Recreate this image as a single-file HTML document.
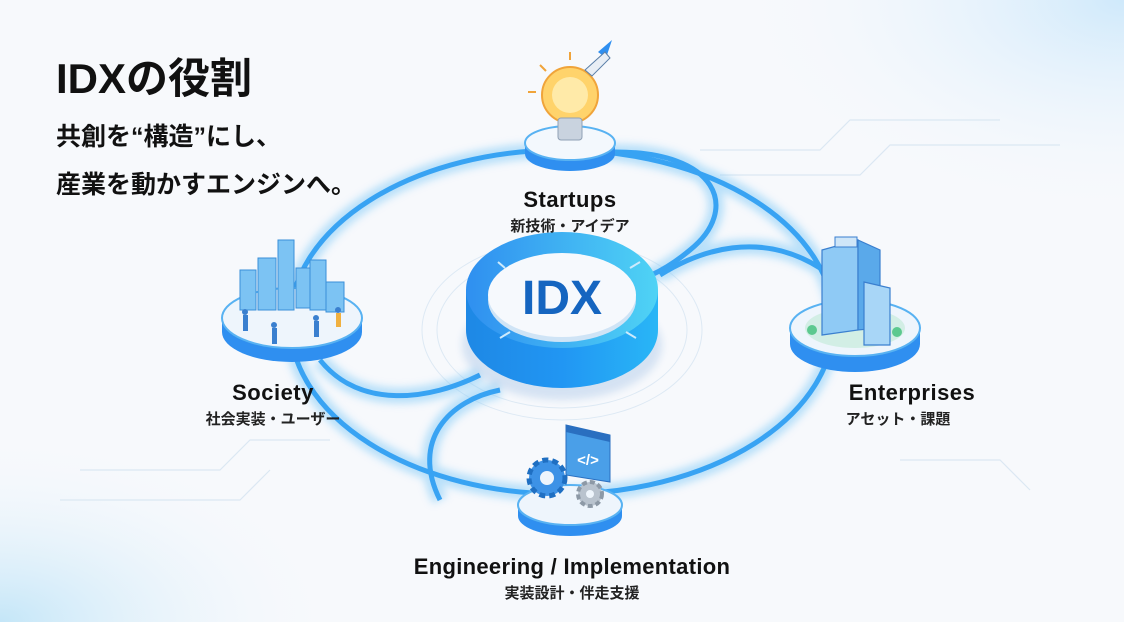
<!DOCTYPE html>
<html><head><meta charset="utf-8"><style>
html,body{margin:0;padding:0;width:1124px;height:622px;overflow:hidden;background:#f7f9fc}
svg{display:block}
text{font-family:"Liberation Sans","Noto Sans CJK JP",sans-serif}
</style></head><body>
<svg width="1124" height="622" viewBox="0 0 1124 622" xmlns="http://www.w3.org/2000/svg">
<defs>
<radialGradient id="g1" cx="1" cy="0" r="0.35"><stop offset="0" stop-color="#cfe9fb"/><stop offset="1" stop-color="#f7f9fc" stop-opacity="0"/></radialGradient>
<radialGradient id="g2" cx="0" cy="1" r="0.3"><stop offset="0" stop-color="#c4e6f8"/><stop offset="1" stop-color="#f7f9fc" stop-opacity="0"/></radialGradient>
<linearGradient id="side" x1="0" x2="1"><stop offset="0" stop-color="#1e88e5"/><stop offset="0.5" stop-color="#2196f3"/><stop offset="1" stop-color="#29b6f6"/></linearGradient>
<linearGradient id="ring" x1="0" x2="1"><stop offset="0" stop-color="#2f8ff0"/><stop offset="1" stop-color="#4fd3f5"/></linearGradient>
<filter id="blur"><feGaussianBlur stdDeviation="4"/></filter>
</defs>
<rect width="1124" height="622" fill="url(#g1)"/>
<rect width="1124" height="622" fill="url(#g2)"/>
<g stroke="#dbe8f3" stroke-width="1.2" fill="none">
<path d="M700 150 L820 150 L850 120 L1000 120"/><path d="M720 175 L860 175 L890 145 L1060 145"/>
<path d="M80 470 L220 470 L250 440 L330 440"/><path d="M60 500 L240 500 L270 470"/>
<path d="M900 460 L1000 460 L1030 490"/>
</g>
<g fill="none" stroke="#dde9f4" stroke-width="1">
<ellipse cx="562" cy="330" rx="140" ry="90"/><ellipse cx="562" cy="330" rx="125" ry="78"/>
</g>
<g fill="none" stroke="#7cc8f7" stroke-width="16" opacity="0.5" filter="url(#blur)">
<ellipse cx="562" cy="322" rx="272" ry="172"/>
<path d="M610 152 C720 150 740 210 690 250 C660 275 640 280 620 285"/>
<path d="M820 268 C760 230 700 250 660 275"/>
<path d="M320 360 C360 410 430 400 480 375"/>
<path d="M440 500 C410 440 450 400 500 390"/>
</g>
<g fill="none" stroke="#38a3f3" stroke-width="5">
<ellipse cx="562" cy="322" rx="272" ry="172"/>
<path d="M610 152 C720 150 740 210 690 250 C660 275 640 280 620 285"/>
<path d="M820 268 C760 230 700 250 660 275"/>
<path d="M320 360 C360 410 430 400 480 375"/>
<path d="M440 500 C410 440 450 400 500 390"/>
</g>
<text x="56" y="93" font-size="42" font-weight="bold" fill="#111">IDXの役割</text>
<text x="56" y="145" font-size="25" font-weight="bold" fill="#111">共創を“構造”にし、</text>
<text x="56" y="193" font-size="25" font-weight="bold" fill="#111">産業を動かすエンジンへ。</text>

<ellipse cx="562" cy="345" rx="100" ry="55" fill="#1565c0" opacity="0.15" filter="url(#blur)"/>
<path d="M466 290 L466 330 A96 58 0 0 0 658 330 L658 290 Z" fill="url(#side)"/>
<ellipse cx="562" cy="290" rx="96" ry="58" fill="url(#ring)"/>
<ellipse cx="562" cy="300" rx="74" ry="42" fill="#cfe4f6"/>
<ellipse cx="562" cy="295" rx="74" ry="42" fill="#f6f9fd"/>
<g stroke="#cdeafc" stroke-width="2"><line x1="498" y1="262" x2="505" y2="268"/><line x1="640" y1="262" x2="630" y2="268"/><line x1="500" y1="338" x2="510" y2="332"/><line x1="636" y1="338" x2="626" y2="332"/></g>
<text x="562" y="314" text-anchor="middle" font-size="48" font-weight="bold" fill="#1565c0">IDX</text>

<path d="M525 143 L525 154 A45 17 0 0 0 615 154 L615 143 Z" fill="#2f8ff0"/>
<ellipse cx="570" cy="143" rx="45" ry="17" fill="#f3f8fd" stroke="#58b2f2" stroke-width="2"/>
<circle cx="570" cy="95" r="28" fill="#ffd36b" stroke="#f0a43a" stroke-width="2"/>
<circle cx="570" cy="95" r="18" fill="#fff0b8" opacity="0.8"/>
<rect x="558" y="118" width="24" height="22" rx="3" fill="#c9d3df" stroke="#8fa0b5"/>
<path d="M598 52 L612 40 L606 58 Z" fill="#2f8ff0"/><path d="M585 70 L605 52 L610 58 L592 76Z" fill="#e8eef5" stroke="#5a7fa8"/>
<g stroke="#f0a43a" stroke-width="2"><line x1="570" y1="52" x2="570" y2="60"/><line x1="540" y1="65" x2="546" y2="71"/><line x1="528" y1="92" x2="536" y2="92"/></g>
<text x="570" y="207" text-anchor="middle" font-size="22" font-weight="bold" fill="#111" letter-spacing="0.5">Startups</text>
<text x="570" y="231" text-anchor="middle" font-size="15" font-weight="bold" fill="#222">新技術・アイデア</text>

<path d="M222 318 L222 332 A70 30 0 0 0 362 332 L362 318 Z" fill="#2f8ff0"/>
<ellipse cx="292" cy="318" rx="70" ry="30" fill="#eef5fc" stroke="#58b2f2" stroke-width="2"/>
<g fill="#7cc3f3" stroke="#3a8fd8" stroke-width="1">
<rect x="240" y="270" width="16" height="40"/><rect x="258" y="258" width="18" height="52"/><rect x="278" y="240" width="16" height="70"/><rect x="296" y="268" width="14" height="40"/><rect x="310" y="260" width="16" height="50"/><rect x="326" y="282" width="18" height="30"/>
</g>
<g fill="#3a7fcf"><circle cx="245" cy="312" r="3"/><rect x="243" y="315" width="5" height="16"/><circle cx="274" cy="325" r="3"/><rect x="272" y="328" width="5" height="16"/><circle cx="316" cy="318" r="3"/><rect x="314" y="321" width="5" height="16"/><circle cx="338" cy="310" r="3"/><rect x="336" y="313" width="5" height="14" fill="#f0b040"/></g>
<text x="273" y="400" text-anchor="middle" font-size="22" font-weight="bold" fill="#111" letter-spacing="0.5">Society</text>
<text x="273" y="424" text-anchor="middle" font-size="15" font-weight="bold" fill="#222">社会実装・ユーザー</text>

<path d="M790 328 L790 344 A65 28 0 0 0 920 344 L920 328 Z" fill="#2f8ff0"/>
<ellipse cx="855" cy="328" rx="65" ry="28" fill="#eef5fc" stroke="#58b2f2" stroke-width="2"/>
<ellipse cx="855" cy="328" rx="50" ry="20" fill="#bfe9d6" opacity="0.6"/>
<g stroke="#3a7fcf" stroke-width="1.2">
<path d="M822 250 L858 240 L858 330 L822 335 Z" fill="#8fcaf5"/>
<path d="M858 240 L880 250 L880 328 L858 330Z" fill="#5aa9ea"/>
<path d="M864 282 L890 288 L890 345 L864 345Z" fill="#a8d6f7"/>
</g>
<rect x="835" y="237" width="22" height="10" fill="#cfe6f8" stroke="#3a7fcf"/>
<circle cx="812" cy="330" r="5" fill="#5cc98f"/><circle cx="897" cy="332" r="5" fill="#5cc98f"/>
<text x="912" y="400" text-anchor="middle" font-size="22" font-weight="bold" fill="#111" letter-spacing="0.5">Enterprises</text>
<text x="898" y="424" text-anchor="middle" font-size="15" font-weight="bold" fill="#222">アセット・課題</text>

<path d="M518 505 L518 516 A52 20 0 0 0 622 516 L622 505 Z" fill="#2f8ff0"/>
<ellipse cx="570" cy="505" rx="52" ry="20" fill="#eef5fc" stroke="#58b2f2" stroke-width="2"/>
<path d="M566 425 L610 435 L610 482 L566 475Z" fill="#4a9fe8" stroke="#2a6fc0"/>
<path d="M566 425 L610 435 L610 442 L566 432Z" fill="#2a6fc0"/>
<text x="588" y="465" text-anchor="middle" font-size="15" font-weight="bold" fill="#fff">&lt;/&gt;</text>
<circle cx="547" cy="478" r="18" fill="#3d92e6" stroke="#1f6fc2" stroke-width="5" stroke-dasharray="6 4"/>
<circle cx="547" cy="478" r="7" fill="#eef5fc"/>
<circle cx="590" cy="494" r="12" fill="#b9c3ce" stroke="#8d99a6" stroke-width="4" stroke-dasharray="5 3"/>
<circle cx="590" cy="494" r="4" fill="#eef5fc"/>
<text x="572" y="574" text-anchor="middle" font-size="22" font-weight="bold" fill="#111" letter-spacing="0.3">Engineering / Implementation</text>
<text x="572" y="598" text-anchor="middle" font-size="15" font-weight="bold" fill="#222">実装設計・伴走支援</text>
</svg>
</body></html>
